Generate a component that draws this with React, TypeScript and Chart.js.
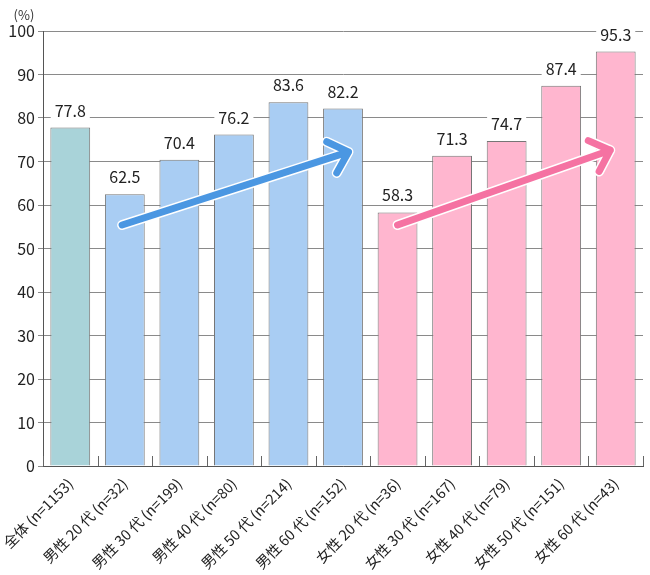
import React, { useEffect, useRef } from "react";
import { Chart, registerables } from "chart.js";

Chart.register(...registerables);

const categories = [
  "全体 (n=1153)",
  "男性 20 代 (n=32)",
  "男性 30 代 (n=199)",
  "男性 40 代 (n=80)",
  "男性 50 代 (n=214)",
  "男性 60 代 (n=152)",
  "女性 20 代 (n=36)",
  "女性 30 代 (n=167)",
  "女性 40 代 (n=79)",
  "女性 50 代 (n=151)",
  "女性 60 代 (n=43)",
];
const values = [77.8, 62.5, 70.4, 76.2, 83.6, 82.2, 58.3, 71.3, 74.7, 87.4, 95.3];
const groups = ["all", "male", "male", "male", "male", "male", "female", "female", "female", "female", "female"];
const yTicks = [0, 10, 20, 30, 40, 50, 60, 70, 80, 90, 100];
const unitLabel = "(%)";

// trend arrows in data units (category index, value)
const arrowFrom = [
  [0.95, 55.4],
  [6.0, 55.4],
];
const arrowTo = [
  [5.1, 72.2],
  [9.9, 72.6],
];

const groupColor: Record<string, string> = {
  all: "#a9d3d9",
  male: "#a9cdf3",
  female: "#ffb6cf",
};
const arrowColors = ["#4b97e2", "#f572a2"];
const FONT = "'Noto Sans CJK JP', 'Noto Sans', sans-serif";

const overlayPlugin = {
  id: "overlay",
  afterDatasetsDraw(chart: any) {
    const { ctx, scales, chartArea } = chart;
    const xs = scales.x;
    const ys = scales.y;
    ctx.save();
    // bottom ticks at category boundaries, pointing up
    ctx.strokeStyle = "#666";
    ctx.lineWidth = 1;
    for (let i = 0; i <= categories.length; i++) {
      const x = Math.round(xs.getPixelForValue(i - 0.5)) + 0.5;
      ctx.beginPath();
      ctx.moveTo(x, chartArea.bottom);
      ctx.lineTo(x, chartArea.bottom - 10);
      ctx.stroke();
    }
    // value labels
    ctx.font = `16px ${FONT}`;
    ctx.textAlign = "center";
    ctx.textBaseline = "middle";
    const meta = chart.getDatasetMeta(0);
    values.forEach((v, i) => {
      const bar = meta.data[i];
      const txt = v.toFixed(1);
      const w = ctx.measureText(txt).width;
      const cy = bar.y - 17;
      ctx.fillStyle = "#fff";
      ctx.fillRect(bar.x - w / 2 - 4, cy - 9, w + 8, 18);
      ctx.fillStyle = "#222";
      ctx.fillText(txt, bar.x, cy);
    });
    // arrows
    arrowFrom.forEach((f, k) => {
      const t = arrowTo[k];
      const x1 = xs.getPixelForValue(f[0]);
      const y1 = ys.getPixelForValue(f[1]);
      const x2 = xs.getPixelForValue(t[0]);
      const y2 = ys.getPixelForValue(t[1]);
      const ang = Math.atan2(y2 - y1, x2 - x1);
      const hl = 24;
      const spread = 0.75;
      const hx1 = x2 - hl * Math.cos(ang - spread);
      const hy1 = y2 - hl * Math.sin(ang - spread);
      const hx2 = x2 - hl * Math.cos(ang + spread);
      const hy2 = y2 - hl * Math.sin(ang + spread);
      const path = () => {
        ctx.beginPath();
        ctx.moveTo(x1, y1);
        ctx.lineTo(x2, y2);
        ctx.moveTo(hx1, hy1);
        ctx.lineTo(x2, y2);
        ctx.lineTo(hx2, hy2);
      };
      ctx.lineCap = "round";
      ctx.lineJoin = "round";
      ctx.strokeStyle = "#ffffff";
      ctx.lineWidth = 10;
      path();
      ctx.stroke();
      ctx.strokeStyle = arrowColors[k];
      ctx.lineWidth = 7;
      path();
      ctx.stroke();
    });
    // unit label
    ctx.font = `13px ${FONT}`;
    ctx.fillStyle = "#333";
    ctx.textAlign = "center";
    ctx.fillText(unitLabel, 24, 15);
    ctx.restore();
  },
};

export default function App() {
  const ref = useRef<HTMLCanvasElement>(null);
  useEffect(() => {
    document.body.style.margin = "0";
    const chart = new Chart(ref.current!, {
      type: "bar",
      data: {
        labels: categories,
        datasets: [
          {
            data: values,
            backgroundColor: groups.map((g) => groupColor[g]),
            borderColor: "#767676",
            borderWidth: 1,
            borderSkipped: "bottom",
            barPercentage: 0.73,
            categoryPercentage: 1,
          },
        ],
      },
      options: {
        animation: false,
        responsive: false,
        layout: { padding: { top: 31, right: 7, left: 0, bottom: 0 } },
        plugins: { legend: { display: false }, tooltip: { enabled: false } },
        scales: {
          x: {
            grid: { display: false },
            border: { display: true, color: "#555", width: 1 },
            ticks: {
              minRotation: 45,
              maxRotation: 45,
              color: "#222",
              font: { family: FONT, size: 14.5 },
              padding: 1,
              autoSkip: false,
            },
            afterFit(scale: any) {
              scale.height = 109;
            },
          },
          y: {
            min: 0,
            max: 100,
            afterBuildTicks(scale: any) {
              scale.ticks = yTicks.map((v) => ({ value: v }));
            },
            grid: { color: "#8a8a8a", lineWidth: 1, tickLength: 5, drawTicks: true },
            border: { display: true, color: "#555", width: 1 },
            ticks: {
              color: "#222",
              font: { family: FONT, size: 16 },
              padding: 3,
            },
            afterFit(scale: any) {
              scale.width = 43;
            },
          },
        },
      },
      plugins: [overlayPlugin],
    });
    return () => chart.destroy();
  }, []);
  return <canvas ref={ref} width={650} height={575} style={{ display: "block" }} />;
}
